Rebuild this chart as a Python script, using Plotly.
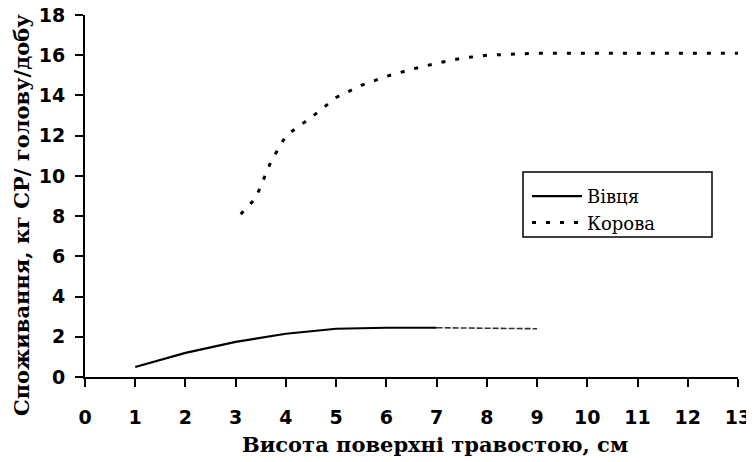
import plotly.graph_objects as go

# Data
sheep_x = [1, 2, 3, 4, 5, 6, 7, 8, 9]
sheep_y = [0.5, 1.2, 1.75, 2.15, 2.4, 2.45, 2.45, 2.42, 2.4]

cow_x = [3.1, 3.4, 3.7, 4.0, 4.5, 5.0, 5.5, 6.0, 6.5, 7.0, 7.5, 8.0, 9.0, 10, 11, 12, 13]
cow_y = [8.1, 8.9, 10.7, 12.0, 12.9, 13.9, 14.5, 14.95, 15.3, 15.6, 15.85, 16.0, 16.1, 16.1, 16.1, 16.1, 16.1]

x_ticks = list(range(0, 14))
y_ticks = list(range(0, 19, 2))

# page body has an 8px margin, so the figure is drawn 8px right/down in the window
OFF = 8
WIN_W, WIN_H = 754, 462
W, H = WIN_W - OFF, WIN_H - OFF
# plot area in window pixels
PX0, PX1, PY0, PY1 = 85, 738, 15, 377
L, R, T, B = PX0 - OFF, WIN_W - PX1, PY0 - OFF, WIN_H - PY1
PW, PH = W - L - R, H - T - B


def px_x(p):
    return (p - PX0) / PW


def px_y(p):
    return (PY1 - p) / PH


fig = go.Figure()
# sheep: solid part, then fainter continuation
fig.add_trace(go.Scatter(x=sheep_x[:7], y=sheep_y[:7], mode="lines", name="Вівця",
                         line=dict(color="black", width=2.2)))
fig.add_trace(go.Scatter(x=sheep_x[6:], y=sheep_y[6:], mode="lines", showlegend=False,
                         line=dict(color="#333333", width=1.6, dash="6px,2px")))
fig.add_trace(go.Scatter(x=cow_x, y=cow_y, mode="lines", name="Корова",
                         line=dict(color="black", width=3, dash="4px,10px")))

fig.update_layout(
    width=W, height=H,
    margin=dict(l=L, r=R, t=T, b=B, autoexpand=False),
    paper_bgcolor="white", plot_bgcolor="white",
    showlegend=True,
    legend=dict(x=px_x(527), y=px_y(178), xanchor="left", yanchor="top",
                borderwidth=0, bgcolor="rgba(0,0,0,0)",
                font=dict(family="DejaVu Serif", size=18, color="black"),
                itemwidth=50, tracegroupgap=0),
    shapes=[dict(type="rect", xref="paper", yref="paper",
                 x0=px_x(523), x1=px_x(712), y0=px_y(172), y1=px_y(237),
                 line=dict(color="black", width=1.5), fillcolor="white", layer="below")],
    annotations=[
        dict(text="<b>Споживання, кг СР/ голову/добу</b>", textangle=-90,
             xref="paper", yref="paper", x=px_x(22), y=px_y(215),
             xanchor="center", yanchor="middle", showarrow=False,
             font=dict(family="DejaVu Serif", size=21, color="black")),
        dict(text="<b>Висота поверхні травостою, см</b>",
             xref="paper", yref="paper", x=px_x(435), y=px_y(444),
             xanchor="center", yanchor="middle", showarrow=False,
             font=dict(family="DejaVu Serif", size=21, color="black")),
    ],
)
fig.update_xaxes(range=[0, 13], tickvals=x_ticks, ticktext=[f"<b>{v}</b>" for v in x_ticks],
                 showgrid=False, zeroline=False, showline=True, linecolor="black", linewidth=2,
                 ticks="outside", ticklen=8, tickwidth=2, tickcolor="black",
                 ticklabelstandoff=14, automargin=False, ticklabeloverflow="allow",
                 tickfont=dict(family="DejaVu Sans", size=19, color="black"))
fig.update_yaxes(range=[0, 18], tickvals=y_ticks, ticktext=[f"<b>{v}</b>" for v in y_ticks],
                 showgrid=False, zeroline=False, showline=True, linecolor="black", linewidth=2,
                 ticks="outside", ticklen=8, tickwidth=2, tickcolor="black",
                 ticklabelstandoff=6, automargin=False, ticklabeloverflow="allow",
                 tickfont=dict(family="DejaVu Sans", size=19, color="black"))

fig.write_html("out.html")
